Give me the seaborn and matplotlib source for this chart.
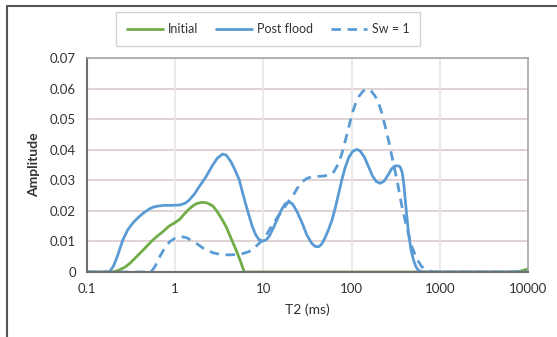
import numpy as np
import pandas as pd
import matplotlib
matplotlib.use("Agg")
import matplotlib.pyplot as plt
import seaborn as sns
from matplotlib.lines import Line2D
from matplotlib.ticker import FixedLocator, FixedFormatter, NullLocator

# ---- data ----
initial_t2 = [0.1, 0.198, 0.23, 0.27, 0.305, 0.35, 0.41, 0.472, 0.55, 0.63, 0.726, 0.85, 1.0, 1.12,
              1.3, 1.45, 1.58, 1.75, 2.02, 2.3, 2.67, 3.0, 3.4, 3.78, 4.3, 4.9, 5.5, 6.06,
              7000, 8000, 9000, 10000]
initial_amp = [0.0, 0.0, 0.0006, 0.0016, 0.0028, 0.0045, 0.0065, 0.0083, 0.0103, 0.0118, 0.0132,
               0.015, 0.0162, 0.0172, 0.0193, 0.0207, 0.0216, 0.0224, 0.0228, 0.0226, 0.0216, 0.0197,
               0.0172, 0.0148, 0.011, 0.0072, 0.0035, 0.0, 0.0, 0.0002, 0.0006, 0.0010]

post_t2 = [0.1, 0.18, 0.2, 0.22, 0.255, 0.29, 0.33, 0.38, 0.432, 0.5, 0.56, 0.65, 0.75, 0.9, 1.12,
           1.3, 1.45, 1.65, 1.9, 2.24, 2.6, 3.0, 3.45, 3.8, 4.3, 4.8, 5.33, 5.8, 6.3, 6.9, 7.5, 8.2,
           8.9, 9.8, 10.7, 11.6, 13.0, 14.5, 16.0, 17.5, 19.5, 21.5, 24.0, 27.6, 31.0, 35.0, 39.0,
           42.7, 46.0, 50.0, 55.0, 60.0, 66.0, 72.0, 78.0, 85.0, 93.0, 103.0, 115.0, 125.0, 140.0,
           156.0, 172.0, 190.0, 212.0, 235.0, 260.0, 285.0, 310.0, 340.0, 357.0, 375.0, 390.0, 406.0,
           425.0, 442.0, 470.0, 503.0, 535.0, 565.0, 620.0, 700.0, 10000]
post_amp = [0.0, 0.0, 0.002, 0.005, 0.0105, 0.0138, 0.016, 0.0178, 0.0192, 0.0205, 0.0212, 0.0216,
            0.0218, 0.0218, 0.0219, 0.0225, 0.0236, 0.0255, 0.0282, 0.0312, 0.0345, 0.0372, 0.0386,
            0.0382, 0.036, 0.0332, 0.0301, 0.026, 0.0222, 0.0183, 0.0148, 0.0121, 0.0106, 0.0101,
            0.0105, 0.0116, 0.0145, 0.0175, 0.0203, 0.0222, 0.023, 0.0222, 0.0198, 0.0159, 0.0122,
            0.0095, 0.0083, 0.0083, 0.0092, 0.0112, 0.014, 0.017, 0.0215, 0.0262, 0.0305, 0.0344,
            0.0375, 0.0395, 0.0401, 0.0396, 0.0375, 0.0344, 0.0315, 0.0296, 0.029, 0.0298, 0.0318,
            0.0338, 0.0347, 0.0347, 0.0343, 0.0325, 0.029, 0.0236, 0.0175, 0.0127, 0.0075, 0.0039,
            0.0018, 0.0007, 0.0001, 0.0, 0.0]

sw1_t2 = [0.1, 0.52, 0.56, 0.6, 0.667, 0.76, 0.865, 1.0, 1.17, 1.35, 1.55, 1.73, 2.1, 2.67, 3.3,
          4.1, 5.0, 5.8, 6.9, 8.2, 9.8, 11.0, 12.5, 14.5, 16.5, 19.0, 21.3, 24.0, 27.6, 31.0, 35.0,
          39.0, 48.0, 57.8, 63.0, 68.0, 71.6, 78.0, 85.0, 93.0, 102.0, 112.0, 120.0, 135.0, 150.0,
          165.0, 185.0, 203.0, 220.0, 241.0, 265.0, 287.0, 330.0, 372.0, 425.0, 482.0, 550.0,
          625.0, 740.0, 850.0, 10000]
sw1_amp = [0.0, 0.0, 0.0008, 0.0022, 0.005, 0.0078, 0.0099, 0.0111, 0.0116, 0.0112, 0.0102, 0.0094,
           0.0077, 0.0063, 0.0057, 0.0056, 0.0057, 0.006, 0.0067, 0.0083, 0.0105, 0.0125, 0.0152,
           0.018, 0.0203, 0.0228, 0.0246, 0.0272, 0.0295, 0.0306, 0.0311, 0.0312, 0.0314, 0.0318,
           0.0328, 0.0345, 0.0356, 0.039, 0.043, 0.0475, 0.052, 0.0555, 0.0573, 0.0592, 0.0598,
           0.0594, 0.0575, 0.0552, 0.052, 0.0475, 0.0425, 0.0377, 0.0295, 0.0214, 0.0142, 0.0083,
           0.0042, 0.0017, 0.0004, 0.0, 0.0]

x_ticks = [0.1, 1, 10, 100, 1000, 10000]
x_tick_labels = ["0.1", "1", "10", "100", "1000", "10000"]
y_ticks = [0, 0.01, 0.02, 0.03, 0.04, 0.05, 0.06, 0.07]
y_tick_labels = ["0", "0.01", "0.02", "0.03", "0.04", "0.05", "0.06", "0.07"]

df = pd.concat([
    pd.DataFrame({"T2": initial_t2, "Amp": initial_amp, "Series": "Initial"}),
    pd.DataFrame({"T2": post_t2, "Amp": post_amp, "Series": "Post flood"}),
    pd.DataFrame({"T2": sw1_t2, "Amp": sw1_amp, "Series": "Sw = 1"}),
], ignore_index=True)

sns.set_theme(style="white")
plt.rcParams["font.family"] = ["Lato", "DejaVu Sans"]

GREEN = "#70ad47"
BLUE = "#5b9bd5"
DASH = (3.4, 2.4)

fig = plt.figure(figsize=(5.57, 3.37), dpi=100)
ax = fig.add_axes([87 / 557, 1 - 272 / 337, (528 - 87) / 557, (272 - 58) / 337])

sns.lineplot(data=df, x="T2", y="Amp", hue="Series", style="Series",
             palette={"Initial": GREEN, "Post flood": BLUE, "Sw = 1": BLUE},
             dashes={"Initial": "", "Post flood": "", "Sw = 1": DASH},
             linewidth=2.0, ax=ax, legend=False, sort=True, estimator=None)
for ln in ax.get_lines():
    ln.set_solid_joinstyle("round")
    ln.set_dash_joinstyle("round")

ax.set_xscale("log")
ax.set_xlim(0.1, 10000)
ax.set_ylim(0, 0.07)
ax.xaxis.set_major_locator(FixedLocator(x_ticks))
ax.xaxis.set_major_formatter(FixedFormatter(x_tick_labels))
ax.xaxis.set_minor_locator(NullLocator())
ax.set_yticks(y_ticks)
ax.set_yticklabels(y_tick_labels)

for y in y_ticks[1:]:
    ax.axhline(y, color="#dccfcf", lw=1.3, zorder=0)
for x in x_ticks[1:-1]:
    ax.axvline(x, color="#e8e8e8", lw=1.3, zorder=0)

for s in ["top", "right"]:
    ax.spines[s].set_color("#a6a6a6")
    ax.spines[s].set_linewidth(1.2)
for s in ["left", "bottom"]:
    ax.spines[s].set_color("#6e6e6e")
    ax.spines[s].set_linewidth(1.5)

ax.tick_params(axis="both", length=0, labelsize=9.5, colors="#333333", pad=8)
ax.set_xlabel("T2 (ms)", fontsize=10, color="#333333", labelpad=6)
ax.set_ylabel("Amplitude", fontsize=10, fontweight="bold", color="#333333", labelpad=7)

handles = [Line2D([], [], color=GREEN, lw=2),
           Line2D([], [], color=BLUE, lw=2),
           Line2D([], [], color=BLUE, lw=2, dashes=DASH)]
leg = fig.legend(handles, ["Initial", "Post flood", "Sw = 1"], loc="center",
                 bbox_to_anchor=(268 / 557, 1 - 29 / 337), ncol=3, fontsize=9,
                 frameon=True, fancybox=False, edgecolor="#c8c8c8", handlelength=2.9,
                 columnspacing=1.4, handletextpad=0.4, borderpad=0.85, borderaxespad=0)
leg.get_frame().set_linewidth(1.0)
for t in leg.get_texts():
    t.set_color("#333333")

# figure frame (top and left edges as in the reference)
fig.add_artist(Line2D([7 / 557, 1.0], [1 - 6 / 337, 1 - 6 / 337], color="#555555", lw=1.5,
                      transform=fig.transFigure))
fig.add_artist(Line2D([7 / 557, 7 / 557], [0.0, 1 - 6 / 337], color="#555555", lw=1.5,
                      transform=fig.transFigure))

fig.savefig("out.png", dpi=100)
